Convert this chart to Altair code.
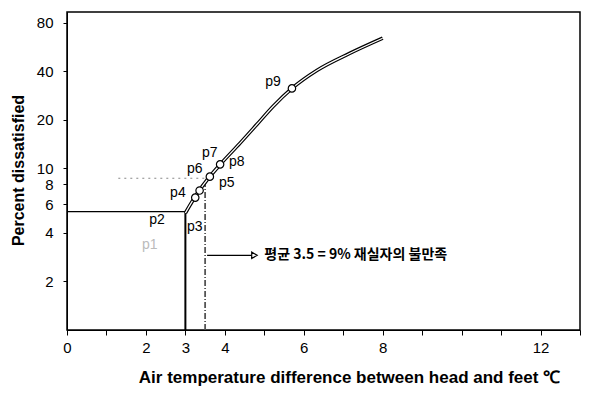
import altair as alt
import pandas as pd

# Curve
curve_x = [3.0, 3.3, 3.6, 3.9, 4.38, 4.81, 5.22, 5.70, 6.33, 7.16, 8.0]
curve_y = [5.3, 7.0, 8.8, 10.7, 14.3, 18.7, 24.2, 31.3, 40.4, 51.5, 64.0]

# beads on the curve
bead_x = [3.25, 3.36, 3.62, 3.88, 5.70]
bead_y = [6.6, 7.3, 8.9, 10.6, 31.3]

# point labels
lab_text = ["p2", "p3", "p4", "p5", "p6", "p7", "p8", "p9"]
lab_x = [2.28, 3.24, 2.81, 4.05, 3.24, 3.62, 4.30, 5.22]
lab_y = [4.78, 4.32, 7.0, 8.1, 9.86, 12.4, 10.9, 34.1]
faint_text = ["p1"]
faint_x = [2.10]
faint_y = [3.34]

# reference lines
solid_h_y = 5.4
solid_v_x = 3.0
dot_h_y = 8.7
dot_h_x = [1.3, 3.5]
mean_x = 3.5
mean_top = 8.2
y_bottom = 1.0

arrow_y = 2.9
arrow_x = [3.55, 4.75]
note_x = 5.0
note_text = "평균 3.5 = 9% 재실자의 불만족"

x_ticks = list(range(0, 14))
x_labels = [0, 2, 3, 4, 6, 8, 12]
y_ticks = [2, 4, 6, 8, 10, 20, 40, 80]

FONT = "Liberation Sans"

xs = alt.Scale(domain=[0, 13], nice=False)
ys = alt.Scale(type="log", domain=[1, 93], nice=False)

label_list = "[" + ",".join(str(v) for v in x_labels) + "]"
xaxis = alt.Axis(
    values=x_ticks, labelOverlap=False, labelFlush=False, labelBound=False,
    labelExpr=f"indexof({label_list}, round(datum.value)) >= 0 ? '' + round(datum.value) : ''",
    title="Air temperature difference between head and feet ℃",
    titleX=282, titleY=47, titleAlign="center", titleBaseline="middle",
    labelFontSize=15, titleFontSize=17, tickSize=5, labelPadding=5,
    grid=False, labelFont=FONT, titleFont=FONT, titleFontWeight="bold",
    domainColor="black", tickColor="black", labelColor="black", titleColor="black")
yaxis = alt.Axis(
    values=y_ticks, format="d", labelOverlap=False,
    title="Percent dissatisfied",
    titleX=-49, titleY=158, titleAngle=270, titleAlign="center", titleBaseline="middle",
    labelFontSize=15, titleFontSize=16, tickSize=4, labelPadding=10,
    grid=False, labelFont=FONT, titleFont=FONT, titleFontWeight="bold",
    domainColor="black", tickColor="black", labelColor="black", titleColor="black")

X = alt.X("x:Q", scale=xs, axis=xaxis)
Y = alt.Y("y:Q", scale=ys, axis=yaxis)


def base(df):
    return alt.Chart(pd.DataFrame(df))


hline = base({"x": [0, solid_v_x], "y": [solid_h_y, solid_h_y]}).mark_line(
    color="black", strokeWidth=1.3).encode(x=X, y=Y)
vline = base({"x": [solid_v_x, solid_v_x], "y": [y_bottom, solid_h_y]}).mark_line(
    color="black", strokeWidth=2).encode(x=X, y=Y)
dline = base({"x": dot_h_x, "y": [dot_h_y, dot_h_y]}).mark_line(
    color="#888888", strokeWidth=1.2, strokeDash=[2, 4]).encode(x=X, y=Y)
mline = base({"x": [mean_x, mean_x], "y": [y_bottom, mean_top]}).mark_line(
    color="#555555", strokeWidth=1.8, strokeDash=[6, 2, 1, 2]).encode(x=X, y=Y)

curve = {"x": curve_x, "y": curve_y}
outer = base(curve).mark_line(color="black", strokeWidth=3.6, interpolate="monotone").encode(x=X, y=Y)
inner = base(curve).mark_line(color="white", strokeWidth=1.3, interpolate="monotone").encode(x=X, y=Y)

beads = base({"x": bead_x, "y": bead_y}).mark_point(
    filled=True, fill="white", stroke="black", strokeWidth=1.2, size=55, opacity=1
).encode(x=X, y=Y)

arrow = base({"x": arrow_x, "y": [arrow_y, arrow_y]}).mark_line(
    color="black", strokeWidth=1.2).encode(x=X, y=Y)
head = base({"x": [arrow_x[1]], "y": [arrow_y]}).mark_point(
    shape="triangle-right", filled=True, fill="white", stroke="black", strokeWidth=1.2, size=40, opacity=1
).encode(x=X, y=Y)
note = base({"x": [note_x], "y": [arrow_y], "t": [note_text]}).mark_text(
    align="left", baseline="middle", font="Noto Sans CJK KR", fontSize=14, fontWeight="bold", color="black"
).encode(x=X, y=Y, text="t:N")

labels = base({"x": lab_x, "y": lab_y, "t": lab_text}).mark_text(
    align="center", baseline="middle", font=FONT, fontSize=14, color="black"
).encode(x=X, y=Y, text="t:N")
faint = base({"x": faint_x, "y": faint_y, "t": faint_text}).mark_text(
    align="center", baseline="middle", font=FONT, fontSize=14, color="#bbbbbb"
).encode(x=X, y=Y, text="t:N")

chart = alt.layer(
    hline, vline, dline, mline, outer, inner, beads, arrow, head, note, labels, faint
).properties(
    width=513, height=318,
    autosize=alt.AutoSizeParams(type="none"),
    padding={"left": 59, "top": 4, "right": 9, "bottom": 56},
    background="white",
).configure_view(stroke="black", strokeWidth=1.5
).configure_axis(labelOverlap=False)

chart.save("out.html", embed_options={"renderer": "svg", "actions": False})
